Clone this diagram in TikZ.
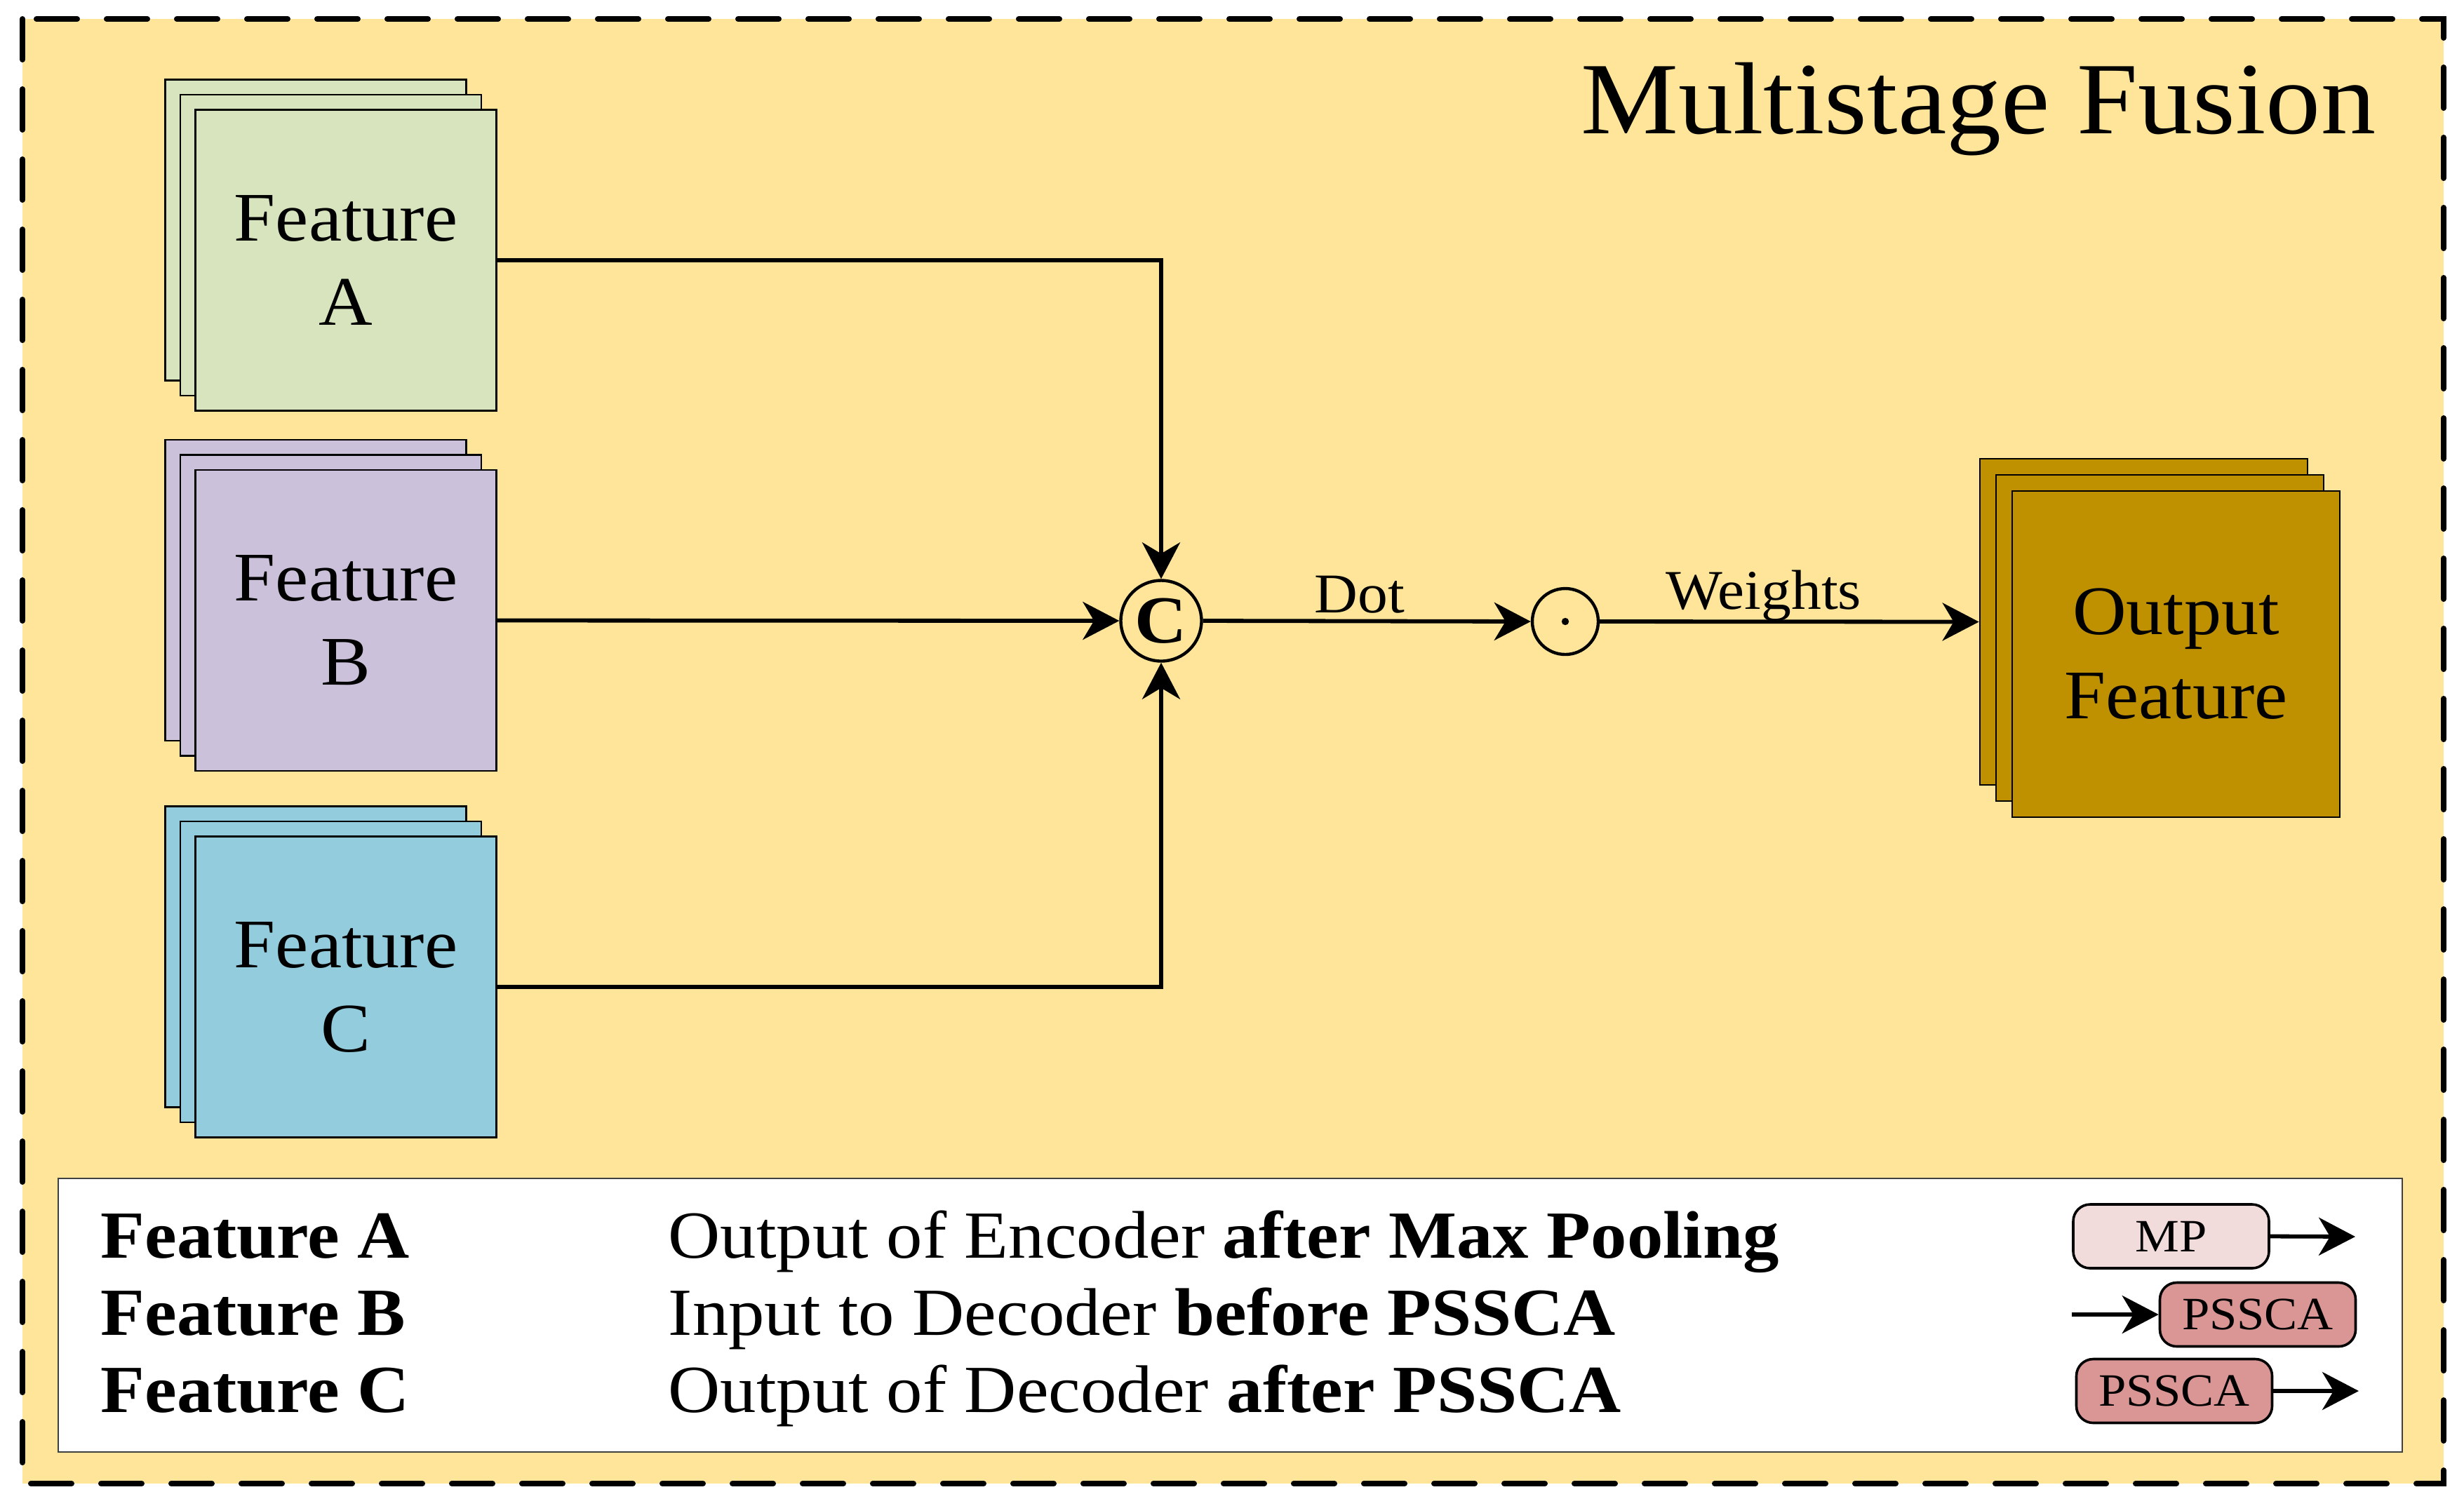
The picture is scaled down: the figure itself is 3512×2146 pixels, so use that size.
\documentclass[tikz,border=0pt]{standalone}
\usepackage{fontspec}
\setmainfont{Liberation Serif}[FakeStretch=1.07]
\usetikzlibrary{arrows.meta}
\definecolor{bgyellow}{HTML}{FFE599}
\definecolor{featA}{HTML}{D7E4BD}
\definecolor{featB}{HTML}{CCC1DA}
\definecolor{featC}{HTML}{93CDDD}
\definecolor{outcol}{HTML}{BF9000}
\definecolor{mpcol}{HTML}{F2DCDB}
\definecolor{psscol}{HTML}{D99694}
\definecolor{legborder}{HTML}{404040}
\begin{document}
\begin{tikzpicture}[x=0.25pt,y=-0.25pt,
  dashborder/.style={line width=2pt, dash pattern=on 14.5pt off 10.5pt, line cap=round},
  featbox/.style={draw=black, line width=0.7pt, minimum width=107.25pt, minimum height=107.25pt, inner sep=0pt, align=center, font=\fontsize{24.8}{30}\selectfont},
  outbox/.style={featbox, fill=outcol, minimum width=116.75pt, minimum height=116.25pt},
  conn/.style={line width=1.45pt, -{Stealth[length=13pt,width=13.5pt,inset=4pt]}},
  lbl/.style={inner sep=0pt, font=\fontsize{20}{22}\selectfont},
  legfont/.style={inner sep=0pt, font=\fontsize{24}{28}\selectfont},
  icon/.style={draw=black, line width=0.9pt, rounded corners=6pt, minimum width=69.75pt, minimum height=22.75pt, inner sep=0pt, font=\fontsize{16.5}{18}\selectfont}
]
\useasboundingbox (0,0) rectangle (3512,2146);
\draw[dashborder, fill=bgyellow] (32,27) rectangle (3483,2115);

% title
\node[anchor=base east, inner sep=0pt, font=\fontsize{36.5}{40}\selectfont] (title) at (3387,190) {Multistage Fusion};

% Feature A stack
\node[featbox, fill=featA] (A3) at (450,328) {};
\node[featbox, fill=featA] (A2) at (471.5,349.5) {};
\node[featbox, fill=featA] (A) at (493,371) {Feature\\A};
% Feature B stack
\node[featbox, fill=featB] (B3) at (450,841.5) {};
\node[featbox, fill=featB] (B2) at (471.5,863) {};
\node[featbox, fill=featB] (B) at (493,884.5) {Feature\\B};
% Feature C stack
\node[featbox, fill=featC] (C3) at (450,1364) {};
\node[featbox, fill=featC] (C2) at (471.5,1385.5) {};
\node[featbox, fill=featC] (C) at (493,1407) {Feature\\C};

% Output stack
\node[outbox] (O3) at (3055.5,886.5) {};
\node[outbox] (O2) at (3078.5,909.5) {};
\node[outbox] (O) at (3101.5,932.5) {Output\\Feature};

% operators
\node[circle, draw=black, line width=1.1pt, minimum size=28.75pt, inner sep=0pt, font=\fontsize{24}{24}\selectfont\bfseries] (cc) at (1655,885) {C};
\node[circle, draw=black, line width=1.1pt, minimum size=23.5pt, inner sep=0pt] (dt) at (2231,886) {};
\fill (dt.center) circle (1.3pt);

% connectors
\draw[conn] (A.east) -| (cc.north);
\draw[conn] (B.east) -- (cc.west);
\draw[conn] (C.east) -| (cc.south);
\draw[conn] (cc.east) -- (dt.west);
\draw[conn] (dt.east) -- (O3.west);

\node[lbl, anchor=base] (dotlbl) at (1938,873) {Dot};
\node[lbl, anchor=base] (wlbl) at (2514,868) {Weights};

% legend
\node[draw=legborder, fill=white, line width=0.7pt, minimum width=835.25pt, minimum height=97.5pt, inner sep=0pt] (legend) at (1753.5,1875) {};
\node[legfont, anchor=base west, font=\fontsize{24}{28}\selectfont\bfseries] (la) at (143,1793) {Feature A};
\node[legfont, anchor=base west, font=\fontsize{24}{28}\selectfont\bfseries] (lb) at (143,1903) {Feature B};
\node[legfont, anchor=base west, font=\fontsize{24}{28}\selectfont\bfseries] (lc) at (143,2013) {Feature C};
\node[legfont, anchor=base west] (da) at (952,1793) {Output of Encoder \textbf{after Max Pooling}};
\node[legfont, anchor=base west] (db) at (952,1903) {Input to Decoder \textbf{before PSSCA}};
\node[legfont, anchor=base west] (dc) at (952,2013) {Output of Decoder \textbf{after PSSCA}};

\node[icon, fill=mpcol] (mp) at (3094.5,1762.5) {MP};
\coordinate (mpend) at (3357,1763);
\draw[conn] (mp.east) -- (mpend);
\node[icon, fill=psscol] (ps1) at (3218,1874) {PSSCA};
\coordinate (ps1start) at (2953,1874);
\draw[conn] (ps1start) -- (ps1.west);
\node[icon, fill=psscol] (ps2) at (3099,1983) {PSSCA};
\coordinate (ps2end) at (3362,1983);
\draw[conn] (ps2.east) -- (ps2end);
\end{tikzpicture}
\end{document}
